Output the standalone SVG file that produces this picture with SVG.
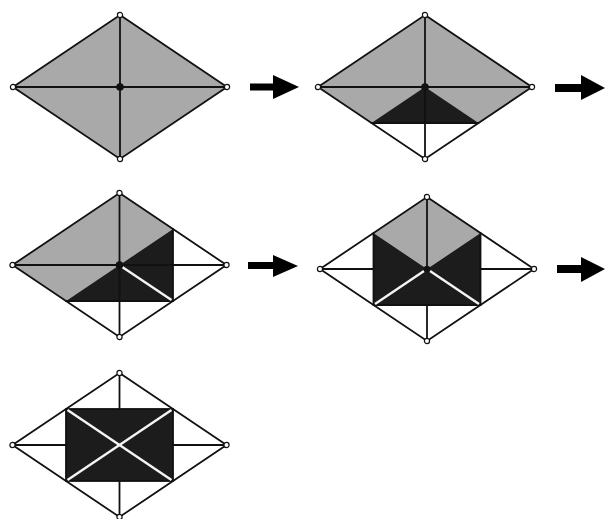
<svg xmlns="http://www.w3.org/2000/svg" width="605" height="519" viewBox="0 0 605 519">
<defs>
<style>
.bg{fill:#ffffff}
.gray{fill:#a9a9a9}
.dark{fill:#1c1c1c}
.white{fill:#ffffff}
.ln{stroke:#111;stroke-width:1.8;fill:none;stroke-linecap:round}
.wl{stroke:#f4f4f4;stroke-width:2.4;fill:none}
.vx{fill:#fff;stroke:#111;stroke-width:1.2}
.cd{fill:#111}
.arr{fill:#000}
</style>
<polygon id="outline" points="0,-72 107,0 0,72 -107,0"/>
<g id="verts">
<circle class="vx" cx="0" cy="-72" r="2.6"/>
<circle class="vx" cx="107" cy="0" r="2.6"/>
<circle class="vx" cx="0" cy="72" r="2.6"/>
<circle class="vx" cx="-107" cy="0" r="2.6"/>
</g>
</defs>
<rect class="bg" x="0" y="0" width="605" height="519"/>

<g id="d1" transform="translate(120,87)">
<use href="#outline" class="gray"/>
<line class="ln" x1="-107" y1="0" x2="107" y2="0"/>
<line class="ln" x1="0" y1="-72" x2="0" y2="72"/>
<use href="#outline" class="ln"/>
<circle class="cd" cx="0" cy="0" r="3.8"/>
<use href="#verts"/>
</g>

<g id="d2" transform="translate(425,87)">
<use href="#outline" class="white"/>
<polygon class="gray" points="0,-72 107,0 53.5,36 -53.5,36 -107,0"/>
<polygon class="dark" points="0,0 53.5,36 -53.5,36"/>
<line class="ln" x1="-107" y1="0" x2="107" y2="0"/>
<line class="ln" x1="0" y1="-72" x2="0" y2="72"/>
<line class="ln" x1="-53.5" y1="36" x2="53.5" y2="36"/>
<use href="#outline" class="ln"/>
<circle class="cd" cx="0" cy="0" r="3.8"/>
<use href="#verts"/>
</g>

<g id="d3" transform="translate(119.5,265)">
<use href="#outline" class="white"/>
<polygon class="gray" points="-107,0 0,-72 53.5,-36 -53.5,36"/>
<polygon class="dark" points="-53.5,36 53.5,-36 53.5,36"/>
<line class="ln" x1="-107" y1="0" x2="107" y2="0"/>
<line class="ln" x1="0" y1="-72" x2="0" y2="72"/>
<line class="ln" x1="53.5" y1="-36" x2="53.5" y2="36"/>
<line class="ln" x1="-53.5" y1="36" x2="53.5" y2="36"/>
<line class="wl" x1="2" y1="1.5" x2="52" y2="35"/>
<use href="#outline" class="ln"/>
<circle class="cd" cx="0" cy="0" r="3.8"/>
<use href="#verts"/>
</g>

<g id="d4" transform="translate(427,269)">
<use href="#outline" class="white"/>
<polygon class="gray" points="0,-72 53.5,-36 0,0 -53.5,-36"/>
<polygon class="dark" points="-53.5,-36 0,0 53.5,-36 53.5,36 -53.5,36"/>
<line class="ln" x1="-107" y1="0" x2="-53.5" y2="0"/>
<line class="ln" x1="53.5" y1="0" x2="107" y2="0"/>
<line class="ln" x1="0" y1="-72" x2="0" y2="0"/>
<line class="ln" x1="0" y1="36" x2="0" y2="72"/>
<line class="ln" x1="-53.5" y1="-36" x2="-53.5" y2="36"/>
<line class="ln" x1="53.5" y1="-36" x2="53.5" y2="36"/>
<line class="ln" x1="-53.5" y1="36" x2="53.5" y2="36"/>
<line class="wl" x1="-3" y1="2" x2="-52" y2="35"/>
<line class="wl" x1="3" y1="2" x2="52" y2="35"/>
<use href="#outline" class="ln"/>
<circle class="cd" cx="0" cy="0" r="3.2"/>
<use href="#verts"/>
</g>

<g id="d5" transform="translate(119.5,445)">
<use href="#outline" class="white"/>
<rect class="dark" x="-53.5" y="-36" width="107" height="72"/>
<line class="ln" x1="-107" y1="0" x2="-53.5" y2="0"/>
<line class="ln" x1="53.5" y1="0" x2="107" y2="0"/>
<line class="ln" x1="0" y1="-72" x2="0" y2="-36"/>
<line class="ln" x1="0" y1="36" x2="0" y2="72"/>
<rect class="ln" x="-53.5" y="-36" width="107" height="72"/>
<line class="wl" x1="-52" y1="-35" x2="52" y2="35"/>
<line class="wl" x1="52" y1="-35" x2="-52" y2="35"/>
<use href="#outline" class="ln"/>
<use href="#verts"/>
</g>

<g id="connectors">
<g id="a1"><rect class="arr" x="250" y="83.5" width="24" height="7"/><polygon class="arr" points="273,75 299,87 273,99"/></g>
<g id="a2"><rect class="arr" x="555" y="84" width="27" height="8"/><polygon class="arr" points="581,75 605,88 581,100"/></g>
<g id="a3"><rect class="arr" x="248" y="262" width="26" height="7"/><polygon class="arr" points="273,255 298,266 273,277"/></g>
<g id="a4"><rect class="arr" x="557" y="265" width="25" height="8"/><polygon class="arr" points="581,257 605,269 581,282"/></g>
</g>
</svg>
